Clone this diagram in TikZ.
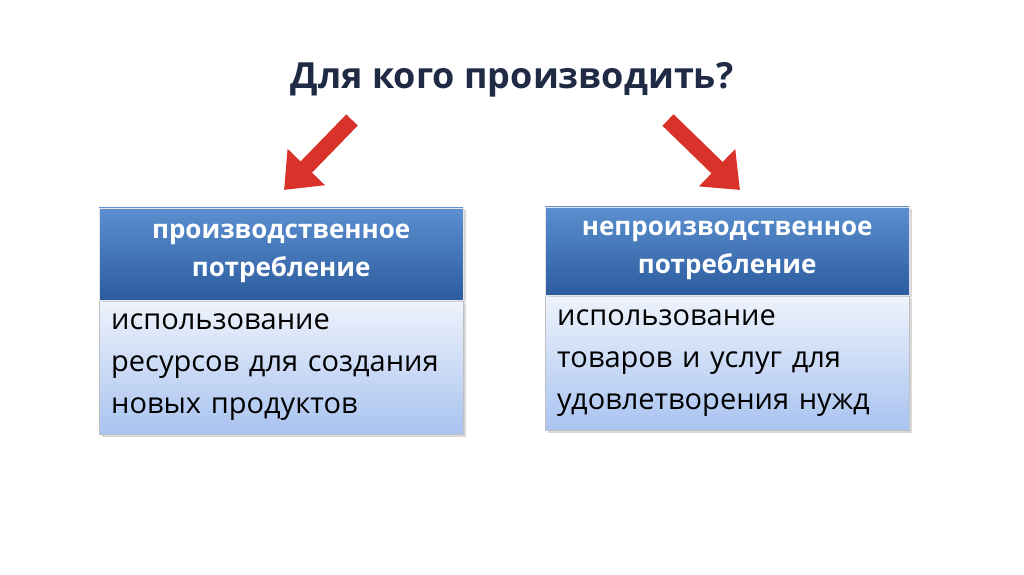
\documentclass[tikz,border=0pt]{standalone}
\usepackage{fontspec}
\setmainfont{Open Sans}
\usetikzlibrary{positioning,arrows.meta,shadows}
\definecolor{titlenavy}{HTML}{1F2A44}
\definecolor{headtop}{HTML}{5B8FD0}
\definecolor{headbot}{HTML}{2C5C9E}
\definecolor{bodytop}{HTML}{EEF3FC}
\definecolor{bodybot}{HTML}{A9C3F0}
\definecolor{arrowred}{HTML}{D8322A}
\tikzset{
  headbox/.style={draw=white!80!gray, top color=headtop, bottom color=headbot,
    minimum width=364pt, text=white, font=\fontsize{26}{38}\selectfont\bfseries,
    align=center, inner sep=0pt, drop shadow={opacity=0.3}},
  bodybox/.style={draw=gray!50, top color=bodytop, bottom color=bodybot,
    minimum width=364pt, text=black, font=\fontsize{29}{42}\selectfont,
    align=left, text width=340pt, inner sep=0pt, drop shadow={opacity=0.3}},
  bigarrow/.style={draw=arrowred, line width=16pt,
    -{Triangle[length=32pt,width=50pt]}}
}
\begin{document}
\begin{tikzpicture}[x=1pt,y=-1pt]
   \useasboundingbox[fill=white] (0,0) rectangle (1024,574);
   \node[font=\fontsize{36}{42}\selectfont\bfseries, text=titlenavy] (title) at (512,80) {Для кого производить?};
   % left
   \node[bodybox, minimum height=134pt, anchor=north west] (usebodyL) at (99,300)
   {использование\\ресурсов для создания\\новых продуктов};
   \node[headbox, minimum height=92pt, anchor=south west] (useheadL) at (usebodyL.north west)
   {производственное\\потребление};
   % right
   \node[bodybox, minimum height=135pt, anchor=north west] (usebodyR) at (545,295)
   {использование\\товаров и услуг для\\удовлетворения нужд};
   \node[headbox, minimum height=88pt, anchor=south west] (useheadR) at (usebodyR.north west)
   {непроизводственное\\потребление};
   % arrows
   \coordinate (tailL) at (352,120);
   \coordinate (tipL) at (284,190);
   \coordinate (tailR) at (668,120);
   \coordinate (tipR) at (740,190);
   \draw[bigarrow] (tailL) -- (tipL);
   \draw[bigarrow] (tailR) -- (tipR);
\end{tikzpicture}
\end{document}
